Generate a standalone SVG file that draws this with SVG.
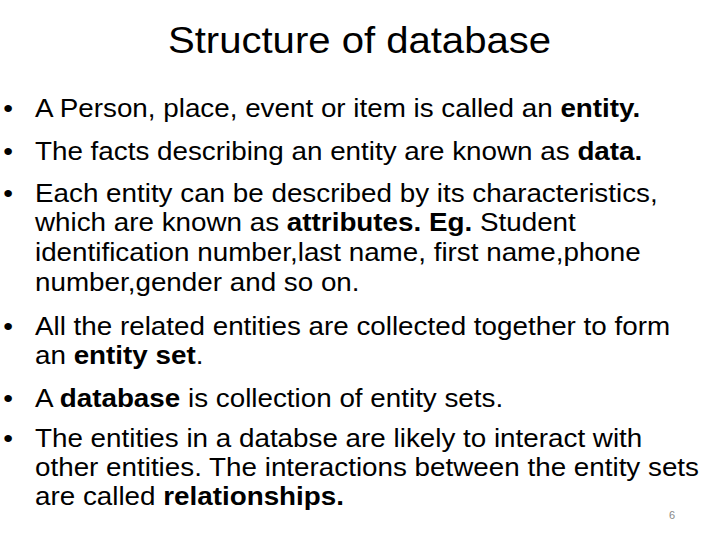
<svg xmlns="http://www.w3.org/2000/svg" width="720" height="540" viewBox="0 0 720 540">
<style>
text{font-family:"Liberation Sans",Arial,sans-serif;fill:#000}
.t{font-size:37px}
.b{font-size:26px}
.s{font-size:11px;fill:#888}
</style>
<rect width="720" height="540" fill="#fff"/>
<g id="title"><text class="t" x="168" y="53" textLength="383" lengthAdjust="spacingAndGlyphs">Structure of database</text></g>
<g id="body" transform="scale(1.07,1)">
<text class="b" x="3" y="117">•</text><text class="b" x="32.7" y="117">A Person, place, event or item is called an <tspan font-weight="bold">entity.</tspan></text>
<text class="b" x="3" y="160">•</text><text class="b" x="32.7" y="160">The facts describing an entity are known as <tspan font-weight="bold">data.</tspan></text>
<text class="b" x="3" y="202">•</text><text class="b" x="32.7" y="202">Each entity can be described by its characteristics,</text>
<text class="b" x="32.7" y="231">which are known as <tspan font-weight="bold">attributes. Eg.</tspan> Student</text>
<text class="b" x="32.7" y="261">identification number,last name, first name,phone</text>
<text class="b" x="32.7" y="291">number,gender and so on.</text>
<text class="b" x="3" y="335">•</text><text class="b" x="32.7" y="335">All the related entities are collected together to form</text>
<text class="b" x="32.7" y="364">an <tspan font-weight="bold">entity set</tspan>.</text>
<text class="b" x="3" y="407">•</text><text class="b" x="32.7" y="407">A <tspan font-weight="bold">database</tspan> is collection of entity sets.</text>
<text class="b" x="3" y="447">•</text><text class="b" x="32.7" y="447">The entities in a databse are likely to interact with</text>
<text class="b" x="32.7" y="476">other entities. The interactions between the entity sets</text>
<text class="b" x="32.7" y="505">are called <tspan font-weight="bold">relationships.</tspan></text>
</g>
<text class="s" x="675" y="519" text-anchor="end">6</text>
</svg>
